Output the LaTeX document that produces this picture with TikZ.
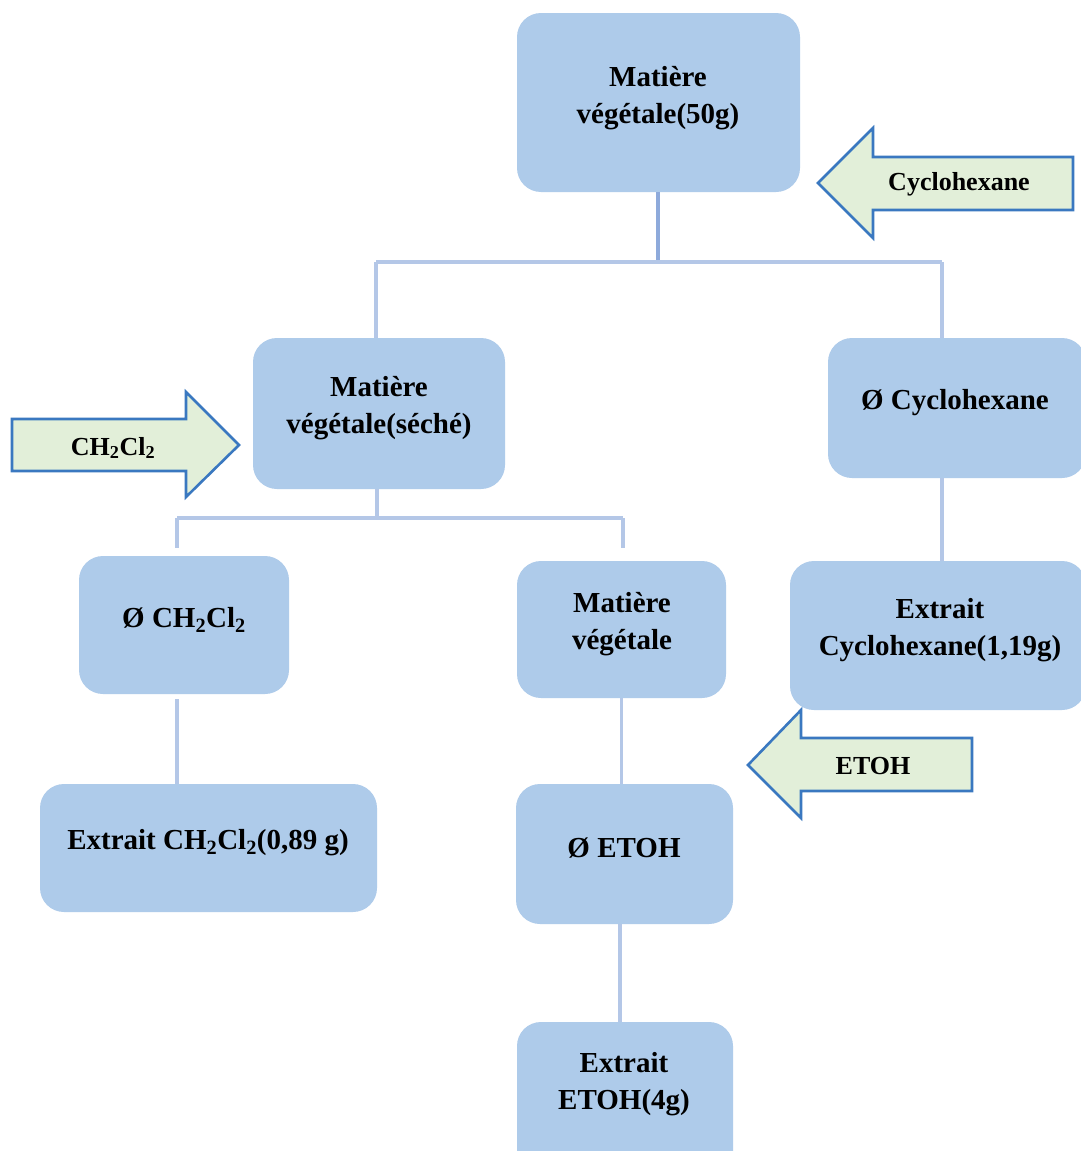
\documentclass[tikz,border=0pt]{standalone}
\usepackage{fontspec}
\setmainfont{Liberation Serif}
\definecolor{boxfill}{HTML}{AECBEA}
\definecolor{connc}{HTML}{B4C7E7}
\definecolor{conndark}{HTML}{8EAADB}
\definecolor{arrfill}{HTML}{E2EFD9}
\definecolor{arrdraw}{HTML}{3A78C0}
\newcommand{\sub}[1]{\textsubscript{#1}}
\begin{document}
\begin{tikzpicture}[x=1pt,y=-1pt,
  boxshape/.style={fill=boxfill, rounded corners=24pt, inner sep=0pt},
  txt/.style={font=\fontsize{29}{37}\selectfont\bfseries, align=center, inner sep=0pt},
  arrtxt/.style={font=\fontsize{26}{32}\selectfont\bfseries, align=center, inner sep=0pt},
  conn/.style={draw=connc, line width=3.5pt},
  conntop/.style={draw=conndark, line width=3.5pt},
  arrshape/.style={fill=arrfill, draw=arrdraw, line width=2.6pt, line join=miter}]
\useasboundingbox (0,0) rectangle (1081,1151);
\fill[white] (0,0) rectangle (1081,1151);

% boxes
\node[boxshape, minimum width=283pt, minimum height=179pt] (top) at (658.5,102.5) {};
\node[boxshape, minimum width=252pt, minimum height=151pt] (sech) at (379,413.5) {};
\node[boxshape, minimum width=258pt, minimum height=140pt] (cyc) at (957,408) {};
\node[boxshape, minimum width=210pt, minimum height=138pt] (dcm) at (184,625) {};
\node[boxshape, minimum width=209pt, minimum height=137pt] (mv) at (621.5,629.5) {};
\node[boxshape, minimum width=296pt, minimum height=149pt] (exc) at (938,635.5) {};
\node[boxshape, minimum width=337pt, minimum height=128pt] (exd) at (208.5,848) {};
\node[boxshape, minimum width=217pt, minimum height=140pt] (eto) at (624.5,854) {};
\node[boxshape, minimum width=216pt, minimum height=158pt] (exe) at (625,1101) {};

% box texts
\node[txt] (ttop) at (658,98) {Matière\\végétale(50g)};
\node[txt] (tsech) at (379,408.5) {Matière\\végétale(séché)};
\node[txt] (tcyc) at (955,403) {Ø Cyclohexane};
\node[txt] (tdcm) at (184,620) {Ø CH\sub{2}Cl\sub{2}};
\node[txt] (tmv) at (622,624) {Matière\\végétale};
\node[txt] (texc) at (940,630) {Extrait\\Cyclohexane(1,19g)};
\node[txt] (texd) at (208,843) {Extrait CH\sub{2}Cl\sub{2}(0,89 g)};
\node[txt] (teto) at (624,848) {Ø ETOH};
\node[txt] (texe) at (624,1084) {Extrait\\ETOH(4g)};

% connectors
\coordinate (j1) at (658,262);
\coordinate (j1L) at (376,262);
\coordinate (j1R) at (942,262);
\coordinate (j2) at (377,518);
\coordinate (j2L) at (177,518);
\coordinate (j2R) at (623,518);
\draw[conntop] (top.south -| j1) -- (j1);
\draw[conn] (j1L) -- (j1R);
\draw[conn] (j1L) -- (j1L |- sech.north);
\draw[conn] (j1R) -- (j1R |- cyc.north);
\draw[conn] (j2 |- sech.south) -- (j2);
\draw[conn] (j2L) -- (j2R);
\draw[conn] (j2L) -- ([yshift=8pt]j2L |- dcm.north);
\draw[conn] (j2R) -- ([yshift=13pt]j2R |- mv.north);
\draw[conn] (j1R |- cyc.south) -- (j1R |- exc.north);
\draw[conn] ([yshift=-5pt]j2L |- dcm.south) -- (j2L |- exd.north);
\draw[conn] (mv.south) -- (mv.south |- eto.north);
\draw[conn] (eto.south -| 620,0) -- (exe.north -| 620,0);

% block arrows
\path[arrshape] (818,183) -- (873,128) -- (873,157) -- (1073,157) -- (1073,210) -- (873,210) -- (873,238) -- cycle;
\node[arrtxt] (acyc) at (959,184) {Cyclohexane};
\path[arrshape] (12,419) -- (186,419) -- (186,392) -- (239,445) -- (186,497) -- (186,471) -- (12,471) -- cycle;
\node[arrtxt] (adcm) at (113,448) {CH\sub{2}Cl\sub{2}};
\path[arrshape] (748,765) -- (801,710) -- (801,738) -- (972,738) -- (972,791) -- (801,791) -- (801,818) -- cycle;
\node[arrtxt] (aeto) at (873,766) {ETOH};
\end{tikzpicture}
\end{document}
